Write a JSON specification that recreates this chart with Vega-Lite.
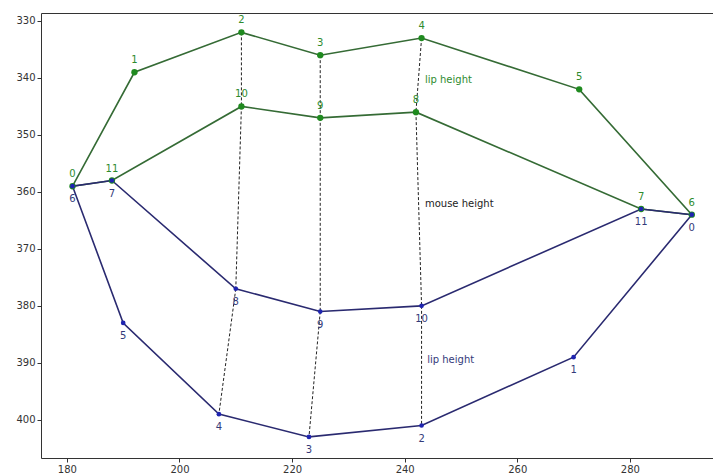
{
  "$schema": "https://vega.github.io/schema/vega-lite/v6.json",
  "width": 675,
  "height": 445,
  "autosize": {"type": "none"},
  "padding": {"left": 41, "top": 13, "right": 0, "bottom": 16},
  "background": "white",
  "config": {
    "font": "DejaVu Sans",
    "view": {"stroke": "#333333", "strokeWidth": 1},
    "axis": {
      "grid": false,
      "domain": false,
      "tickColor": "#333333",
      "tickSize": 4,
      "labelColor": "#333333",
      "labelFontSize": 10,
      "labelFont": "DejaVu Sans",
      "title": null
    }
  },
  "datasets": {
    "lines": [
      {"lip": "upper", "seq": 0, "x": 181, "y": 359},
      {"lip": "upper", "seq": 1, "x": 192, "y": 339},
      {"lip": "upper", "seq": 2, "x": 211, "y": 332},
      {"lip": "upper", "seq": 3, "x": 225, "y": 336},
      {"lip": "upper", "seq": 4, "x": 243, "y": 333},
      {"lip": "upper", "seq": 5, "x": 271, "y": 342},
      {"lip": "upper", "seq": 6, "x": 291, "y": 364},
      {"lip": "upper", "seq": 7, "x": 282, "y": 363},
      {"lip": "upper", "seq": 8, "x": 242, "y": 346},
      {"lip": "upper", "seq": 9, "x": 225, "y": 347},
      {"lip": "upper", "seq": 10, "x": 211, "y": 345},
      {"lip": "upper", "seq": 11, "x": 188, "y": 358},
      {"lip": "upper", "seq": 12, "x": 181, "y": 359},
      {"lip": "lower", "seq": 0, "x": 291, "y": 364},
      {"lip": "lower", "seq": 1, "x": 270, "y": 389},
      {"lip": "lower", "seq": 2, "x": 243, "y": 401},
      {"lip": "lower", "seq": 3, "x": 223, "y": 403},
      {"lip": "lower", "seq": 4, "x": 207, "y": 399},
      {"lip": "lower", "seq": 5, "x": 190, "y": 383},
      {"lip": "lower", "seq": 6, "x": 181, "y": 359},
      {"lip": "lower", "seq": 7, "x": 188, "y": 358},
      {"lip": "lower", "seq": 8, "x": 210, "y": 377},
      {"lip": "lower", "seq": 9, "x": 225, "y": 381},
      {"lip": "lower", "seq": 10, "x": 243, "y": 380},
      {"lip": "lower", "seq": 11, "x": 282, "y": 363},
      {"lip": "lower", "seq": 12, "x": 291, "y": 364}
    ],
    "dashes": [
      {"x": 211, "y": 332, "x2": 211, "y2": 345},
      {"x": 211, "y": 345, "x2": 210, "y2": 377},
      {"x": 210, "y": 377, "x2": 207, "y2": 399},
      {"x": 225, "y": 336, "x2": 225, "y2": 347},
      {"x": 225, "y": 347, "x2": 225, "y2": 381},
      {"x": 225, "y": 381, "x2": 223, "y2": 403},
      {"x": 243, "y": 333, "x2": 242, "y2": 346},
      {"x": 242, "y": 346, "x2": 243, "y2": 380},
      {"x": 243, "y": 380, "x2": 243, "y2": 401}
    ],
    "notes": [
      {"x": 243.6, "y": 340.4, "text": "lip height", "kind": "upper"},
      {"x": 243.6, "y": 362.1, "text": "mouse height", "kind": "mid"},
      {"x": 244, "y": 389.5, "text": "lip height", "kind": "lower"}
    ]
  },
  "encoding": {
    "x": {"field": "x", "type": "quantitative", "scale": {"domain": [175.4, 295.3], "nice": false, "zero": false}, "axis": {"values": [180, 200, 220, 240, 260, 280]}},
    "y": {"field": "y", "type": "quantitative", "scale": {"domain": [328.6, 406.7], "nice": false, "zero": false, "reverse": true}, "axis": {"values": [330, 340, 350, 360, 370, 380, 390, 400]}}
  },
  "layer": [
    {
      "data": {"name": "dashes"},
      "mark": {"type": "rule", "strokeDash": [3, 2], "strokeWidth": 1, "color": "#222222"},
      "encoding": {"x2": {"field": "x2"}, "y2": {"field": "y2"}}
    },
    {
      "data": {"name": "lines"},
      "transform": [{"filter": "datum.lip === 'upper'"}],
      "mark": {"type": "line", "strokeWidth": 1.6, "color": "#356b35"},
      "encoding": {"order": {"field": "seq", "type": "quantitative"}}
    },
    {
      "data": {"name": "lines"},
      "transform": [{"filter": "datum.lip === 'lower'"}],
      "mark": {"type": "line", "strokeWidth": 1.6, "color": "#2a2a70"},
      "encoding": {"order": {"field": "seq", "type": "quantitative"}}
    },
    {
      "data": {"name": "lines"},
      "transform": [{"filter": "datum.lip === 'upper' && datum.seq < 12"}],
      "mark": {"type": "circle", "size": 40, "opacity": 1, "color": "#1f8a1f"}
    },
    {
      "data": {"name": "lines"},
      "transform": [{"filter": "datum.lip === 'lower' && datum.seq < 12"}],
      "mark": {"type": "circle", "size": 22, "opacity": 1, "color": "#1f24b0"}
    },
    {
      "data": {"name": "lines"},
      "transform": [{"filter": "datum.lip === 'upper' && datum.seq < 12"}],
      "mark": {"type": "text", "dy": -12, "fontSize": 10, "color": "#2e8b2e"},
      "encoding": {"text": {"field": "seq", "type": "nominal"}}
    },
    {
      "data": {"name": "lines"},
      "transform": [{"filter": "datum.lip === 'lower' && datum.seq < 12"}],
      "mark": {"type": "text", "dy": 13, "fontSize": 10, "color": "#333a7a"},
      "encoding": {"text": {"field": "seq", "type": "nominal"}}
    },
    {
      "data": {"name": "notes"},
      "mark": {"type": "text", "align": "left", "baseline": "middle", "fontSize": 10},
      "encoding": {
        "text": {"field": "text"},
        "color": {"field": "kind", "type": "nominal", "scale": {"domain": ["upper", "mid", "lower"], "range": ["#2e8b2e", "#222222", "#333a7a"]}, "legend": null}
      }
    }
  ]
}
